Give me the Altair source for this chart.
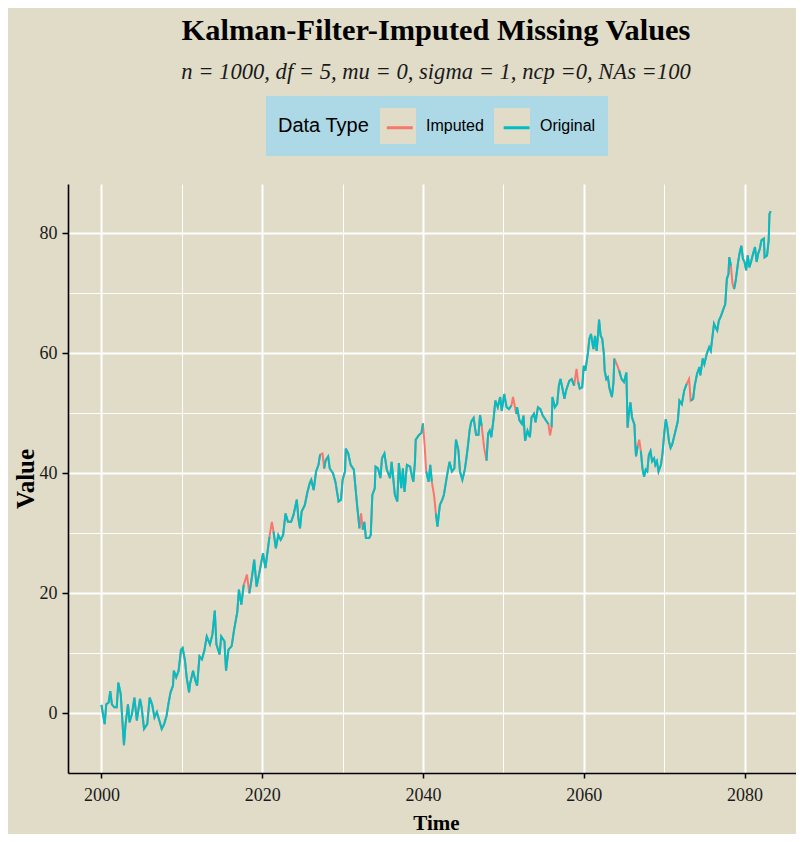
import altair as alt
import pandas as pd

# ---- data (decimal year, value) ----
time = [
    2000.0, 2000.2, 2000.4, 2000.6, 2000.9, 2001.1, 2001.3, 2001.6, 2001.9, 2002.1,
    2002.4, 2002.6, 2002.8, 2003.0, 2003.3, 2003.5, 2003.8, 2004.1, 2004.4, 2004.8,
    2005.0, 2005.3, 2005.7, 2006.0, 2006.3, 2006.6, 2006.9, 2007.2, 2007.5, 2007.8,
    2008.1, 2008.4, 2008.6, 2008.9, 2009.0, 2009.3, 2009.6, 2009.9, 2010.1, 2010.4,
    2010.6, 2010.9, 2011.0, 2011.4, 2011.7, 2011.9, 2012.2, 2012.5, 2012.8, 2013.1,
    2013.5, 2013.8, 2014.1, 2014.3, 2014.7, 2014.9, 2015.3, 2015.5, 2015.8, 2016.2,
    2016.5, 2016.7, 2016.9, 2017.1, 2017.4, 2017.7, 2018.1, 2018.4, 2018.7, 2019.0,
    2019.3, 2019.6, 2020.1, 2020.4, 2020.9, 2021.2, 2021.4, 2021.7, 2022.0, 2022.3,
    2022.6, 2022.9, 2023.2, 2023.6, 2023.9, 2024.3, 2024.5, 2024.7, 2024.9, 2025.3,
    2025.6, 2025.9, 2026.1, 2026.4, 2026.7, 2027.0, 2027.2, 2027.5, 2027.7, 2027.9,
    2028.2, 2028.4, 2028.8, 2029.1, 2029.5, 2029.8, 2030.0, 2030.3, 2030.4, 2030.7,
    2031.0, 2031.4, 2031.8, 2032.1, 2032.3, 2032.5, 2032.7, 2032.9, 2033.3, 2033.5,
    2033.7, 2034.0, 2034.1, 2034.4, 2034.7, 2034.9, 2035.2, 2035.5, 2035.9, 2036.1,
    2036.5, 2036.8, 2037.0, 2037.3, 2037.5, 2037.7, 2038.0, 2038.4, 2038.6, 2038.8,
    2039.0, 2039.1, 2039.5, 2039.8, 2040.0, 2040.2, 2040.4, 2040.7, 2040.9, 2041.1,
    2041.4, 2041.6, 2041.8, 2042.1, 2042.4, 2042.6, 2043.0, 2043.3, 2043.6, 2043.9,
    2044.1, 2044.4, 2044.6, 2044.9, 2045.2, 2045.4, 2045.6, 2045.8, 2046.0, 2046.3,
    2046.6, 2046.9, 2047.1, 2047.3, 2047.6, 2047.9, 2048.1, 2048.3, 2048.5, 2048.8,
    2049.0, 2049.3, 2049.6, 2049.8, 2050.1, 2050.4, 2050.7, 2051.0, 2051.2, 2051.6,
    2051.7, 2052.0, 2052.3, 2052.5, 2052.7, 2053.0, 2053.3, 2053.5, 2053.8, 2054.0,
    2054.3, 2054.6, 2054.9, 2055.3, 2055.6, 2055.8, 2056.0, 2056.1, 2056.4, 2056.7,
    2056.9, 2057.1, 2057.4, 2057.6, 2057.8, 2058.2, 2058.5, 2058.8, 2059.1, 2059.3,
    2059.5, 2059.8, 2060.0, 2060.2, 2060.5, 2060.7, 2060.9, 2061.2, 2061.4, 2061.6,
    2061.8, 2061.9, 2062.1, 2062.3, 2062.5, 2062.6, 2062.8, 2063.0, 2063.2, 2063.5,
    2063.7, 2063.8, 2064.1, 2064.4, 2064.7, 2065.0, 2065.3, 2065.45, 2065.6, 2065.8,
    2066.0, 2066.3, 2066.4, 2066.5, 2066.7, 2066.9, 2067.1, 2067.3, 2067.5, 2067.7,
    2067.9, 2068.1, 2068.3, 2068.5, 2068.75, 2068.9, 2069.1, 2069.3, 2069.6, 2069.8,
    2070.0, 2070.2, 2070.4, 2070.6, 2070.8, 2071.0, 2071.4, 2071.7, 2071.9, 2072.2,
    2072.5, 2072.8, 2073.1, 2073.3, 2073.6, 2073.8, 2074.1, 2074.4, 2074.5, 2074.8,
    2075.0, 2075.3, 2075.6, 2075.8, 2076.0, 2076.2, 2076.4, 2076.6, 2076.8, 2077.1,
    2077.3, 2077.6, 2077.8, 2078.0, 2078.1, 2078.3, 2078.5, 2078.7, 2078.9, 2079.2,
    2079.4, 2079.6, 2079.8, 2080.0, 2080.2, 2080.4, 2080.6, 2080.8, 2081.1, 2081.3,
    2081.5, 2081.7, 2081.9, 2082.1, 2082.4, 2082.5, 2082.8, 2083.0, 2083.1, 2083.25,
]
value = [
    1.4, -0.2, -1.8, 1.5, 1.8, 3.7, 1.5, 1.0, 1.0, 5.1,
    3.2, -1.2, -5.3, -1.8, 1.5, -1.5, -0.1, 2.6, -1.2, 2.4,
    1.0, -2.6, -1.8, 2.6, 1.5, -0.7, 0.2, -1.2, -2.6, -1.8,
    -0.4, 2.1, 3.5, 4.6, 7.1, 6.0, 7.1, 10.6, 10.9, 8.7,
    6.0, 3.5, 4.8, 7.1, 5.4, 4.6, 9.5, 9.0, 10.4, 12.8,
    11.5, 13.1, 17.1, 11.5, 9.8, 12.8, 12.0, 7.1, 10.6, 11.2,
    13.9, 15.4, 16.9, 20.6, 18.1, 21.4, 23.1, 20.0, 22.5, 25.6,
    21.1, 23.1, 26.7, 24.2, 29.4, 31.9, 30.3, 27.5, 29.7, 28.9,
    29.7, 33.3, 31.9, 31.9, 33.1, 35.6, 32.5, 30.8, 33.6, 34.7,
    36.7, 38.3, 38.9, 37.2, 40.3, 41.4, 43.1, 43.3, 40.8, 42.2,
    42.8, 40.8, 40.0, 38.6, 35.3, 35.6, 38.9, 40.3, 44.1, 43.3,
    41.4, 40.6, 34.7, 30.8, 33.3, 30.6, 31.9, 29.2, 29.2, 29.7,
    36.4, 37.5, 41.1, 40.8, 39.2, 42.5, 43.3, 40.6, 39.2, 41.9,
    36.4, 35.3, 41.7, 37.5, 40.8, 36.9, 41.4, 41.1, 39.7, 38.6,
    41.9, 45.6, 46.4, 46.7, 48.3, 44.7, 40.3, 38.6, 41.4, 38.6,
    36.1, 33.3, 31.1, 34.7, 35.6, 36.4, 39.7, 41.9, 40.3, 40.8,
    45.6, 43.9, 40.3, 38.9, 40.6, 42.5, 44.7, 47.2, 48.6, 49.2,
    46.4, 46.4, 49.7, 47.9, 44.3, 42.1, 46.6, 47.1, 46.0, 49.3,
    52.1, 51.0, 52.7, 50.4, 53.2, 51.0, 50.7, 51.3, 52.7, 49.9,
    51.0, 48.8, 48.2, 49.6, 45.4, 47.1, 46.0, 49.3, 49.9, 48.5,
    51.0, 50.7, 49.6, 48.8, 48.2, 46.3, 47.7, 52.7, 51.0, 51.6,
    54.6, 55.7, 53.8, 52.4, 53.8, 55.4, 55.7, 54.6, 57.4, 55.2,
    54.1, 54.3, 57.9, 57.1, 59.9, 62.4, 63.2, 60.7, 62.9, 60.4,
    63.5, 65.6, 62.9, 62.4, 59.9, 57.1, 55.7, 56.0, 54.1, 52.7,
    55.2, 59.1, 58.2, 57.1, 55.7, 55.2, 56.8, 47.6, 49.8, 51.8,
    49.3, 48.1, 45.1, 42.8, 44.5, 45.6, 43.7, 40.8, 39.4, 40.6,
    40.3, 43.1, 43.7, 42.0, 42.5, 41.4, 42.0, 40.3, 41.4, 43.4,
    46.5, 49.0, 47.6, 45.3, 44.2, 44.8, 47.0, 48.7, 52.1, 51.5,
    53.8, 54.9, 55.7, 52.1, 52.4, 54.6, 56.6, 57.7, 56.3, 59.1,
    58.2, 59.9, 61.0, 60.4, 62.7, 64.9, 64.3, 63.8, 65.4, 66.3,
    67.1, 68.2, 72.4, 73.2, 76.0, 74.6, 71.6, 70.7, 72.1, 75.2,
    76.8, 77.9, 75.7, 75.2, 73.8, 76.3, 74.3, 75.2, 76.8, 77.7,
    75.2, 76.6, 77.4, 78.8, 79.1, 76.0, 76.3, 78.8, 83.2, 83.7,
]
# time points whose value was imputed (shown in red where the original is missing)
imputed_time = [
    2018.1, 2021.2, 2027.5, 2032.3, 2040.2, 2041.4, 2047.6, 2051.2, 2055.8,
    2059.1, 2064.1, 2066.9, 2073.1, 2078.5,
]
series = ["Imputed", "Original"]
colors = ["#F8766D", "#00BFC4"]
x_ticks = [2000, 2010, 2020, 2030, 2040, 2050, 2060, 2070, 2080]
y_ticks = [0, 10, 20, 30, 40, 50, 60, 70, 80]

BG = "#E0DCC8"
SERIF = "Liberation Serif"
SANS = "Liberation Sans"

imp_set = set(imputed_time)
full_df = pd.DataFrame({"Time": time, "Value": value, "Data Type": series[0]})
orig_df = pd.DataFrame({
    "Time": time,
    "Value": [None if t in imp_set else v for t, v in zip(time, value)],
    "Data Type": series[1],
})
key_df = pd.DataFrame({"Time": [time[0]] * 2, "Value": [value[0]] * 2, "Key": series})

xscale = alt.Scale(domain=[1995.84, 2086.4], nice=False, zero=False)
yscale = alt.Scale(domain=[-9.95, 88.2], nice=False, zero=False)

MAJOR = "datum.value % 20 === 0"
grid_w = {"condition": {"test": MAJOR, "value": 2}, "value": 1}
tick_op = {"condition": {"test": MAJOR, "value": 1}, "value": 0}
lab_expr = "datum.value % 20 === 0 ? datum.label : ''"

x_axis = alt.Axis(
    values=x_ticks, format="d", labelExpr=lab_expr, title="Time", labelFont=SERIF,
    labelFontSize=18, labelColor="#1a1a1a", labelPadding=8, labelFlush=False,
    tickSize=5, tickWidth=1.5, tickColor="black", tickOpacity=tick_op,
    domainColor="black", domainWidth=1.6, gridColor="white", gridWidth=grid_w,
    titleFont=SERIF, titleFontSize=21, titleFontWeight="bold", titleColor="black",
    titleBaseline="alphabetic", titleX=368, titleY=56,
)
y_axis = alt.Axis(
    values=y_ticks, labelExpr=lab_expr, title="Value", labelFont=SERIF,
    labelFontSize=18, labelColor="#1a1a1a", labelPadding=5, tickSize=6,
    tickWidth=1.5, tickColor="black", tickOpacity=tick_op, domainColor="black",
    domainWidth=1.6, gridColor="white", gridWidth=grid_w, titleFont=SERIF,
    titleFontSize=25, titleFontWeight="bold", titleColor="black",
    titleBaseline="alphabetic", titleAngle=270, titleAlign="center",
    titleX=-35, titleY=294.5,
)

# legend 1 (drawn first): light-blue box, title, labels and beige key squares
legend_keys = alt.Legend(
    title="Data Type", orient="none", legendX=198, legendY=-88,
    direction="horizontal", titleOrient="left", padding=12,
    fillColor="#ADD8E6", symbolType="square", symbolSize=1296, symbolStrokeWidth=0,
    symbolOpacity=1, labelFont=SANS, labelFontSize=16, labelColor="black",
    labelOffset=10, columnPadding=10, titleFont=SANS, titleFontSize=20,
    titleFontWeight="normal", titleColor="black", titlePadding=10,
    titleBaseline="middle", titleAnchor="middle",
)
# legend 2 (drawn on top): only the coloured key lines, aligned on the squares
legend_lines = alt.Legend(
    title="", orient="none", legendX=312.3, legendY=-76, direction="horizontal",
    padding=0, symbolType="M-0.72,0H0.72", symbolSize=1296, symbolStrokeWidth=3,
    labelExpr="''", labelOffset=0, columnPadding=77.8,
)

keys = alt.Chart(key_df).mark_point(size=0, filled=True).encode(
    x=alt.X("Time:Q", scale=xscale, axis=x_axis),
    y=alt.Y("Value:Q", scale=yscale, axis=y_axis),
    fill=alt.Fill("Key:N", scale=alt.Scale(range=[BG, BG]), legend=legend_keys),
)
stroke_enc = alt.Stroke(
    "Data Type:N", scale=alt.Scale(domain=series, range=colors), legend=legend_lines
)
imputed_line = alt.Chart(full_df).mark_line(strokeWidth=2).encode(
    x=alt.X("Time:Q", scale=xscale, axis=x_axis),
    y=alt.Y("Value:Q", scale=yscale, axis=y_axis),
    stroke=stroke_enc,
)
original_line = alt.Chart(orig_df).mark_line(strokeWidth=2).encode(
    x=alt.X("Time:Q", scale=xscale, axis=x_axis),
    y=alt.Y("Value:Q", scale=yscale, axis=y_axis),
    stroke=stroke_enc,
)

chart = alt.layer(keys, imputed_line, original_line).properties(
    width=728,
    height=589,
    padding={"left": 60, "top": 176, "right": 0, "bottom": 61},
    autosize=alt.AutoSizeParams(type="none"),
    background=BG,
    title=alt.TitleParams(
        text="Kalman-Filter-Imputed Missing Values",
        subtitle="n = 1000, df = 5, mu = 0, sigma = 1, ncp =0, NAs =100",
        font=SERIF, fontSize=30.4, fontWeight="bold", color="black",
        subtitleFont=SERIF, subtitleFontSize=22.6, subtitleFontStyle="italic",
        subtitleColor="#1a1a1a", anchor="middle", frame="group",
        offset=12, subtitlePadding=15, dx=4,
    ),
).configure_view(stroke=None, fill=BG)

chart.save("out.html", embed_options={"renderer": "svg", "actions": False})
